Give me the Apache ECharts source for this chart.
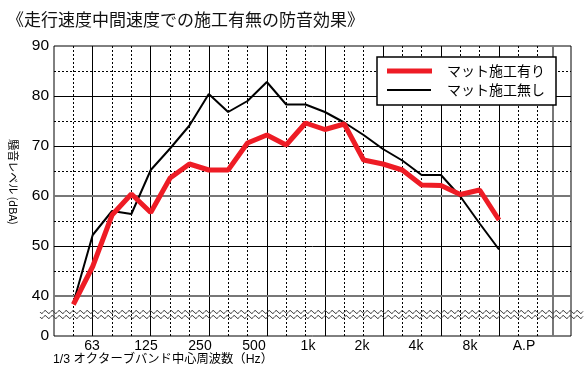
<!DOCTYPE html>
<html>
<head>
<meta charset="utf-8">
<script src="https://cdn.jsdelivr.net/npm/echarts@6/dist/echarts.min.js"></script>
<style>
html, body { margin: 0; padding: 0; background: #fff; }
#chart { width: 586px; height: 376px; }
</style>
</head>
<body>
<div id="chart"></div>
<script>
// 1/3オクターブ帯域（50Hz〜8kHz）
const bands = ['50', '63', '80', '100', '125', '160', '200', '250', '315', '400', '500', '630',
    '800', '1k', '1.25k', '1.6k', '2k', '2.5k', '3.15k', '4k', '5k', '6.3k', '8k']
const withMat = [38.3, 45.9, 56.2, 60.4, 56.7, 63.6, 66.4, 65.2, 65.2, 70.6, 72.2, 70.2,
    74.6, 73.3, 74.4, 67.2, 66.4, 65.2, 62.2, 62.1, 60.3, 61.2, 55.2]
const withoutMat = [38.6, 52.2, 57.0, 56.4, 65.2, 69.5, 74.1, 80.4, 76.8, 79.0, 82.8, 78.3,
    78.3, 76.8, 74.7, 72.2, 69.4, 67.1, 64.2, 64.2, 59.9, 54.5, 49.3]
const tickLabels = ['63', '125', '250', '500', '1k', '2k', '4k', '8k', 'A.P']

const LAT = '"Liberation Sans", "Noto Sans CJK JP", sans-serif'
const JP = '"Noto Sans CJK JP", sans-serif'

// x軸は帯域番号（0 = 40Hz）
const octaves = [2, 5, 8, 11, 14, 17, 20, 23]
const gridLines = []
for (let i = 1; i <= 25; i++) {
    gridLines.push({
        xAxis: i,
        lineStyle: octaves.includes(i)
            ? { color: '#000', width: 1, type: 'solid' }
            : { color: '#000', width: 1, type: [2, 2] }
    })
}
gridLines.push({ xAxis: 25.8, lineStyle: { color: '#777', width: 2, type: 'solid' } })
;[45, 55, 65, 75, 85].forEach(v => gridLines.push({ yAxis: v, lineStyle: { color: '#000', width: 1, type: [2, 2] } }))
;[50, 70, 80].forEach(v => gridLines.push({ yAxis: v, lineStyle: { color: '#000', width: 1, type: 'solid' } }))
;[40, 60].forEach(v => gridLines.push({ yAxis: v, lineStyle: { color: '#777', width: 2, type: 'solid' } }))

const chart = echarts.init(document.getElementById('chart'))

chart.setOption({
    animation: false,
    backgroundColor: '#fff',
    title: [
        {
            text: '《走行速度中間速度での施工有無の防音効果》',
            left: 7, top: 11, padding: 0,
            textStyle: { fontSize: 17, fontWeight: 'normal', color: '#111', fontFamily: JP }
        },
        {
            text: '1/3 オクターブバンド中心周波数（Hz）',
            left: 53, top: 353, padding: 0,
            textStyle: { fontSize: 12.3, fontWeight: 'normal', color: '#000', fontFamily: LAT }
        }
    ],
    legend: [
        {
            data: ['マット施工有り'],
            left: 387, top: 64, padding: 0,
            icon: 'rect', itemWidth: 45, itemHeight: 5,
            selectedMode: false, z: 10,
            textStyle: { fontSize: 14, color: '#000', fontFamily: JP, padding: [0, 0, 0, 10] }
        },
        {
            data: ['マット施工無し'],
            left: 387, top: 83, padding: 0,
            icon: 'rect', itemWidth: 44, itemHeight: 2,
            selectedMode: false, z: 10,
            textStyle: { fontSize: 14, color: '#000', fontFamily: JP, padding: [0, 0, 0, 11] }
        }
    ],
    grid: [
        {
            left: 54, right: 15, top: 46, bottom: 40,
            show: true, borderColor: '#000', borderWidth: 1,
            outerBoundsMode: 'none'
        },
        // 目盛ラベル用
        { left: 65, right: 35, top: 46, bottom: 40, outerBoundsMode: 'none' }
    ],
    xAxis: [
        {
            type: 'value', gridIndex: 0, min: 0, max: 26.72,
            axisLine: { show: false }, axisTick: { show: false },
            axisLabel: { show: false }, splitLine: { show: false }
        },
        {
            type: 'category', gridIndex: 1, data: tickLabels, boundaryGap: true,
            axisLine: { show: false }, axisTick: { show: false },
            axisLabel: { margin: 3, fontSize: 14, color: '#000', fontFamily: LAT, interval: 0 },
            splitLine: { show: false }
        }
    ],
    yAxis: [
        {
            type: 'value', gridIndex: 0, min: 32, max: 90, interval: 2,
            axisLine: { show: false }, axisTick: { show: false },
            splitLine: { show: false },
            axisLabel: {
                margin: 5, fontSize: 15.5, color: '#000', fontFamily: LAT,
                formatter: v => (v >= 40 && v % 10 === 0 ? String(v) : '')
            }
        },
        { type: 'value', gridIndex: 1, show: false }
    ],
    series: [
        {
            name: 'マット施工無し',
            type: 'line',
            xAxisIndex: 0, yAxisIndex: 0,
            data: withoutMat.map((v, i) => [i + 1, v]),
            symbol: 'none',
            itemStyle: { color: '#000' },
            lineStyle: { color: '#000', width: 2 },
            markLine: {
                silent: true, symbol: 'none', z: 1, animation: false,
                label: { show: false },
                data: gridLines
            }
        },
        {
            name: 'マット施工有り',
            type: 'line',
            xAxisIndex: 0, yAxisIndex: 0,
            data: withMat.map((v, i) => [i + 1, v]),
            symbol: 'none',
            itemStyle: { color: '#ee1c25' },
            lineStyle: { color: '#ee1c25', width: 5 }
        }
    ]
})

// 縦軸名・凡例枠・波線（軸の省略記号）・原点の「0」
const yc = chart.convertToPixel({ yAxisIndex: 0 }, 36.3)
const y0px = chart.convertToPixel({ yAxisIndex: 0 }, 32)
function wave(y0) {
    const pts = []
    for (let x = 40; x <= 583; x += 1) {
        pts.push([x, y0 + 1.5 * Math.sin((x - 40) / 7 * Math.PI * 2)])
    }
    return pts
}

chart.setOption({
    graphic: [
        {
            type: 'rect', z: 5,
            shape: { x: 377, y: 57, width: 179, height: 48 },
            style: { fill: '#fff', stroke: '#000', lineWidth: 1.5 }
        },
        {
            type: 'text', z: 5, x: 13, y: 182, rotation: -Math.PI / 2,
            style: {
                text: '騒音レベル (dBA)', fill: '#000',
                font: '11px "Noto Sans CJK JP", sans-serif',
                textAlign: 'center', textVerticalAlign: 'middle'
            }
        },
        {
            type: 'text', z: 5, x: 49, y: y0px,
            style: {
                text: '0', fill: '#000',
                font: '15.5px "Liberation Sans", sans-serif',
                textAlign: 'right', textVerticalAlign: 'middle'
            }
        },
        {
            type: 'polyline', z: 5,
            shape: { points: wave(yc - 2.5) },
            style: { stroke: '#444', lineWidth: 1, fill: null }
        },
        {
            type: 'polyline', z: 5,
            shape: { points: wave(yc + 2.5) },
            style: { stroke: '#444', lineWidth: 1, fill: null }
        }
    ]
})
</script>
</body>
</html>
